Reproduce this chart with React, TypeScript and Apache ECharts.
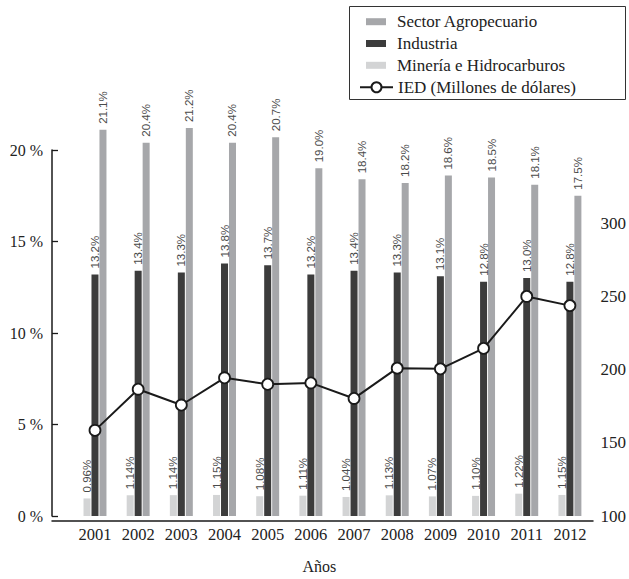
import React, { useEffect, useRef } from "react";
import * as echarts from "echarts";

// Años del período
const years = ["2001", "2002", "2003", "2004", "2005", "2006", "2007", "2008", "2009", "2010", "2011", "2012"];

// Participación por sector (%)
const agropecuario = [21.1, 20.4, 21.2, 20.4, 20.7, 19.0, 18.4, 18.2, 18.6, 18.5, 18.1, 17.5];
const industria = [13.2, 13.4, 13.3, 13.8, 13.7, 13.2, 13.4, 13.3, 13.1, 12.8, 13.0, 12.8];
const mineria = [0.96, 1.14, 1.14, 1.15, 1.08, 1.11, 1.04, 1.13, 1.07, 1.1, 1.22, 1.15];

// IED (millones de dólares)
const ied = [158.5, 186.6, 175.8, 194.4, 190.0, 190.9, 180.3, 201.0, 200.5, 214.5, 250.0, 243.7];

const SERIF = "'Liberation Serif', 'DejaVu Serif', serif";
const SANS = "'Liberation Sans Narrow', 'Liberation Sans', sans-serif";

const barLabel = (digits: number) => ({
  show: true,
  position: "top" as const,
  rotate: 90,
  align: "left" as const,
  verticalAlign: "middle" as const,
  distance: 6,
  fontFamily: SANS,
  fontSize: 11.5,
  color: "#4a4a4a",
  formatter: (p: any) => `${Number(p.value).toFixed(digits)}%`,
});

export default function App() {
  const ref = useRef<HTMLDivElement>(null);

  useEffect(() => {
    if (!ref.current) return;
    const chart = echarts.init(ref.current, undefined, { renderer: "svg" });

    const axisLeft = 52;
    const gridLeft = 73.4;
    const gridRight = 593;
    const gridTop = 150;
    const gridHeight = 370.7;

    chart.setOption({
      animation: false,
      backgroundColor: "#ffffff",
      grid: [
        { left: gridLeft, width: gridRight - gridLeft, top: gridTop, height: gridHeight },
        // marco auxiliar: sólo aporta la línea base completa desde el eje izquierdo
        { left: axisLeft, width: gridRight - axisLeft, top: gridTop, height: gridHeight },
      ],
      legend: [
        {
          orient: "vertical",
          left: 366,
          top: 13.2,
          padding: 0,
          itemGap: 4.8,
          itemWidth: 20,
          itemHeight: 7,
          icon: "rect",
          selectedMode: false,
          textStyle: { fontFamily: SERIF, fontSize: 17, color: "#222", lineHeight: 17, padding: [0, 0, 0, 6] },
          data: ["Sector Agropecuario", "Industria", "Minería e Hidrocarburos"],
        },
        {
          orient: "vertical",
          left: 359,
          top: 78.7,
          padding: 0,
          itemWidth: 33,
          itemHeight: 12.5,
          selectedMode: false,
          textStyle: { fontFamily: SERIF, fontSize: 17, color: "#222", lineHeight: 17 },
          data: ["IED (Millones de dólares)"],
        },
      ],
      graphic: [
        {
          type: "rect",
          left: 347,
          top: 4,
          shape: { width: 276, height: 93 },
          style: { fill: "none", stroke: "#333", lineWidth: 1 },
          silent: true,
        },
      ],
      xAxis: [
        {
          type: "category",
          data: years,
          gridIndex: 0,
          name: "Años",
          nameLocation: "middle",
          nameGap: 42,
          nameTextStyle: { fontFamily: SERIF, fontSize: 16, color: "#222", padding: [0, 26, 0, 0] },
          axisLine: { show: false },
          axisTick: {
            inside: true,
            length: 7,
            interval: (i: number) => i !== 0,
            lineStyle: { color: "#1a1a1a", width: 1.3 },
          },
          axisLabel: { fontFamily: SERIF, fontSize: 16.5, color: "#222", margin: 10 },
          splitLine: { show: false },
        },
        {
          type: "value",
          gridIndex: 1,
          min: 0,
          max: 1,
          axisLine: { show: true, onZero: false, lineStyle: { color: "#1a1a1a", width: 1.5 } },
          axisTick: { show: false },
          axisLabel: { show: false },
          splitLine: { show: false },
        },
      ],
      yAxis: [
        {
          type: "value",
          gridIndex: 0,
          min: 0,
          max: 20,
          interval: 5,
          offset: gridLeft - axisLeft,
          axisLine: { show: true, lineStyle: { color: "#1a1a1a", width: 1.5 } },
          axisTick: { show: true, inside: true, length: 6, lineStyle: { color: "#1a1a1a", width: 1.3 } },
          axisLabel: {
            fontFamily: SERIF,
            fontSize: 16,
            color: "#222",
            margin: 9,
            padding: [7, 0, 0, 0],
            formatter: "{value} %",
          },
          splitLine: { show: false },
        },
        {
          type: "value",
          gridIndex: 0,
          min: 100,
          max: 350,
          interval: 50,
          position: "right",
          axisLine: { show: false },
          axisTick: { show: false },
          axisLabel: { fontFamily: SERIF, fontSize: 17, color: "#222", margin: 9, showMaxLabel: false },
          splitLine: { show: false },
        },
        {
          type: "value",
          gridIndex: 1,
          min: 0,
          max: 1,
          show: false,
        },
      ],
      series: [
        {
          name: "Minería e Hidrocarburos",
          type: "bar",
          data: mineria,
          barWidth: 7,
          barGap: "14%",
          clip: false,
          itemStyle: { color: "#d3d4d5" },
          label: barLabel(2),
        },
        {
          name: "Industria",
          type: "bar",
          data: industria,
          barWidth: 7,
          barGap: "14%",
          clip: false,
          itemStyle: { color: "#3c3c3c" },
          label: barLabel(1),
        },
        {
          name: "Sector Agropecuario",
          type: "bar",
          data: agropecuario,
          barWidth: 7,
          barGap: "14%",
          clip: false,
          itemStyle: { color: "#a6a7aa" },
          label: barLabel(1),
        },
        {
          name: "IED (Millones de dólares)",
          type: "line",
          yAxisIndex: 1,
          data: ied,
          z: 5,
          symbol: "circle",
          symbolSize: 11,
          lineStyle: { color: "#1a1a1a", width: 2 },
          itemStyle: { color: "#ffffff", borderColor: "#1a1a1a", borderWidth: 1.8 },
        },
      ],
    });

    return () => chart.dispose();
  }, []);

  return <div ref={ref} style={{ position: "fixed", left: 0, top: 0, width: 629, height: 579 }} />;
}
